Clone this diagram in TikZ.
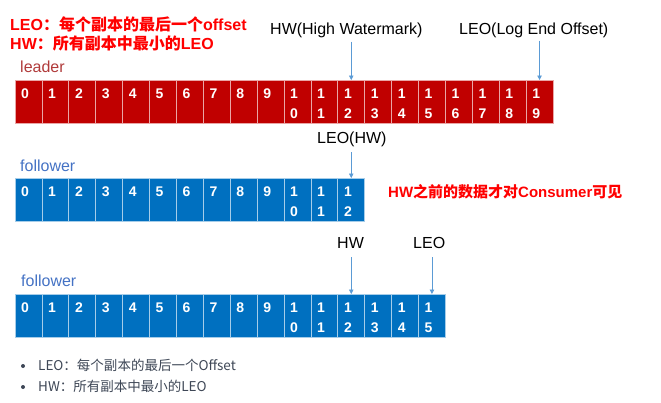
\documentclass[tikz,border=0pt]{standalone}
\usepackage{fontspec}
\setmainfont{Liberation Sans}
\newfontfamily\cjk{Noto Sans CJK SC}
\usetikzlibrary{arrows.meta,calc}
\definecolor{lred}{HTML}{C00000}
\definecolor{fblue}{HTML}{0070C0}
\definecolor{titred}{HTML}{FF0000}
\definecolor{arrblue}{HTML}{5B9BD5}
\definecolor{bulc}{HTML}{3E4756}
\definecolor{leadc}{HTML}{B03A3A}
\definecolor{follc}{HTML}{4472C4}
\begin{document}
\begin{tikzpicture}[x=1pt,y=-1pt,
  cell/.style={rectangle,anchor=north west,minimum width=26.9pt,minimum height=43.5pt,inner sep=0pt,outer sep=0pt,line width=0.7pt},
  lcell/.style={cell,fill=lred,draw=lred!35!white},
  fcell/.style={cell,fill=fblue,draw=fblue!35!white},
  digit/.style={anchor=base west,inner sep=0pt,text=white,font=\bfseries\fontsize{14}{16}\selectfont},
  lab/.style={anchor=base west,inner sep=0pt,font=\fontsize{16}{19}\selectfont},
  tit/.style={anchor=base west,inner sep=0pt,text=titred,font=\bfseries\fontsize{16}{19}\selectfont},
  bul/.style={anchor=base west,inner sep=0pt,text=bulc,font=\cjk\fontsize{13.5}{16}\selectfont},
  dot/.style={circle,fill=bulc,inner sep=0pt,minimum size=4pt},
  arr/.style={draw=arrblue,line width=0.7pt,-{Triangle[length=4.5pt,width=4.5pt]}}]
\useasboundingbox (0,0) rectangle (661,402);

% titles
\node[tit] (t1) at (10,30.5) {LEO{\cjk ：每个副本的最后一个}offset};
\node[tit] (t2) at (10,49) {HW{\cjk ：所有副本中最小的}LEO};

% leader row
\node[lab,text=leadc] (leader) at (20,72) {leader};
\foreach \i in {0,...,19}{
  \node[lcell] (l\i) at ({15+\i*26.9},80) {};
  \ifnum\i<10
    \node[digit] at ($(l\i.north west)+(6,18)$) {\i};
  \else
    \pgfmathtruncatemacro\tens{int(\i/10)}
    \pgfmathtruncatemacro\units{mod(\i,10)}
    \node[digit] at ($(l\i.north west)+(6,18)$) {\tens};
    \node[digit] at ($(l\i.north west)+(6,38)$) {\units};
  \fi
}
\node[lab] (hw1) at (270,34) {HW(High Watermark)};
\node[lab] (leo1) at (459,34) {LEO(Log End Offset)};
\draw[arr] ($(hw1.south -| l12.north)+(0,4)$) -- (l12.north);
\draw[arr] ($(leo1.south -| l19.north)+(0,3)$) -- (l19.north);

% follower 1
\node[lab,text=follc] (f1) at (20,171) {follower};
\foreach \i in {0,...,12}{
  \node[fcell] (a\i) at ({15+\i*26.9},178) {};
  \ifnum\i<10
    \node[digit] at ($(a\i.north west)+(6,18)$) {\i};
  \else
    \pgfmathtruncatemacro\tens{int(\i/10)}
    \pgfmathtruncatemacro\units{mod(\i,10)}
    \node[digit] at ($(a\i.north west)+(6,18)$) {\tens};
    \node[digit] at ($(a\i.north west)+(6,38)$) {\units};
  \fi
}
\node[lab] (leo2) at (317,143) {LEO(HW)};
\draw[arr] ($(leo2.south -| a12.north)+(0,5.5)$) -- (a12.north);
\node[tit,font=\bfseries\fontsize{15}{18}\selectfont] (vis) at (388,197) {HW{\cjk 之前的数据才对}Consumer{\cjk 可见}};

% follower 2
\node[lab,text=follc] (f2) at (21,286) {follower};
\foreach \i in {0,...,15}{
  \node[fcell] (b\i) at ({15+\i*26.9},294) {};
  \ifnum\i<10
    \node[digit] at ($(b\i.north west)+(6,18)$) {\i};
  \else
    \pgfmathtruncatemacro\tens{int(\i/10)}
    \pgfmathtruncatemacro\units{mod(\i,10)}
    \node[digit] at ($(b\i.north west)+(6,18)$) {\tens};
    \node[digit] at ($(b\i.north west)+(6,38)$) {\units};
  \fi
}
\node[lab] (hw3) at (337,248) {HW};
\node[lab] (leo3) at (413,248) {LEO};
\draw[arr] ($(hw3.south -| b12.north)+(0,9)$) -- (b12.north);
\draw[arr] ($(leo3.south -| b15.north)+(0,9)$) -- (b15.north);

% bullets
\node[dot] (d1) at (23,366) {};
\node[bul] (n1) at (38,370.5) {LEO：每个副本的最后一个Offset};
\node[dot] (d2) at (23,387) {};
\node[bul] (n2) at (38,391.5) {HW：所有副本中最小的LEO};
\end{tikzpicture}
\end{document}
